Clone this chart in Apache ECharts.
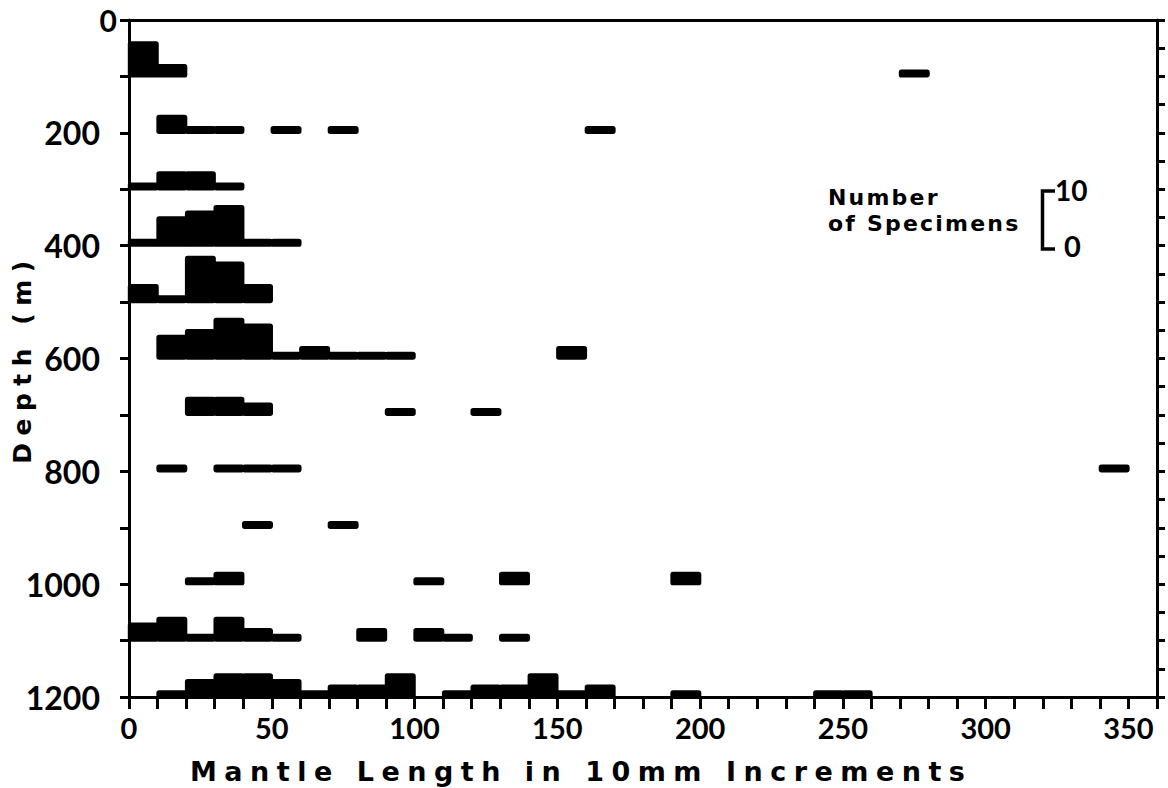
<!DOCTYPE html>
<html>
<head>
<meta charset="utf-8">
<script src="https://cdn.jsdelivr.net/npm/echarts@6/dist/echarts.min.js"></script>
<style>
  html, body { margin: 0; padding: 0; background: #fff; }
  #chart { width: 1168px; height: 788px; }
  /* axis titles are set in a widely tracked face, the scale key slightly tracked */
  #chart text[style*="AxisTitle"], #chart text[font-family*="AxisTitle"] { letter-spacing: 7.5px; }
  #chart text[style*="KeyText"], #chart text[font-family*="KeyText"] { letter-spacing: 2.2px; }
</style>
</head>
<body>
<div id="chart"></div>
<script>
// Length-frequency histograms of mantle length, one per sampled depth.
// Each entry is [bin start (10mm increments), number of specimens].
const depths = [100, 200, 300, 400, 500, 600, 700, 800, 900, 1000, 1100, 1200];
const row100  = [[0, 6], [10, 2], [270, 1]];
const row200  = [[10, 3], [20, 1], [30, 1], [50, 1], [70, 1], [160, 1]];
const row300  = [[0, 1], [10, 3], [20, 3], [30, 1]];
const row400  = [[0, 1], [10, 5], [20, 6], [30, 7], [40, 1], [50, 1]];
const row500  = [[0, 3], [10, 1], [20, 8], [30, 7], [40, 3]];
const row600  = [[10, 4], [20, 5], [30, 7], [40, 6], [50, 1], [60, 2], [70, 1], [80, 1], [90, 1], [150, 2]];
const row700  = [[20, 3], [30, 3], [40, 2], [90, 1], [120, 1]];
const row800  = [[10, 1], [30, 1], [40, 1], [50, 1], [340, 1]];
const row900  = [[40, 1], [70, 1]];
const row1000 = [[20, 1], [30, 2], [100, 1], [130, 2], [190, 2]];
const row1100 = [[0, 3], [10, 4], [20, 1], [30, 4], [40, 2], [50, 1], [80, 2], [100, 2], [110, 1], [130, 1]];
const row1200 = [[10, 1], [20, 3], [30, 4], [40, 4], [50, 3], [60, 1], [70, 2], [80, 2], [90, 4], [110, 1],
                 [120, 2], [130, 2], [140, 4], [150, 1], [160, 2], [190, 1], [240, 1], [250, 1]];
const rows = [row100, row200, row300, row400, row500, row600, row700, row800, row900, row1000, row1100, row1200];

const xTickLabels = [0, 50, 100, 150, 200, 250, 300, 350];
const yTickLabels = [0, 200, 400, 600, 800, 1000, 1200];

const binWidth = 10;          // mantle-length bin
const metresPerSpecimen = 10; // bar height scale: 10 specimens span 100 m of depth

const barData = [];
rows.forEach((row, i) => {
  row.forEach(([start, count]) => barData.push([start, depths[i], count]));
});

const titleFamily = 'AxisTitle, "DejaVu Sans"';
const keyFamily = 'KeyText, "DejaVu Sans"';
const labelFont = { color: '#000', fontFamily: 'Lato', fontWeight: 'bold', fontSize: 29 };
const axisLine = { show: true, onZero: false, lineStyle: { color: '#000', width: 3 } };

const chart = echarts.init(document.getElementById('chart'), null, { renderer: 'svg' });
chart.setOption({
  animation: false,
  backgroundColor: '#fff',
  grid: { left: 129, top: 20, width: 1028, height: 677, containLabel: false, outerBoundsMode: 'none' },
  xAxis: [{
    type: 'value', position: 'bottom', min: 0, max: 360, interval: 10,
    axisLine: axisLine,
    axisTick: { show: true, inside: false, length: 12, lineStyle: { color: '#000', width: 3 } },
    axisLabel: Object.assign({
      margin: 16,
      formatter: v => (xTickLabels.indexOf(v) >= 0 ? String(v) : '')
    }, labelFont),
    splitLine: { show: false }
  }, {
    type: 'value', position: 'top', min: 0, max: 360,
    axisLine: axisLine, axisTick: { show: false }, axisLabel: { show: false }, splitLine: { show: false }
  }],
  yAxis: [{
    type: 'value', position: 'left', inverse: true, min: 0, max: 1200, interval: 100,
    name: 'Depth (m)', nameLocation: 'middle', nameGap: 94, nameRotate: 90, nameMoveOverlap: false,
    nameTextStyle: { color: '#000', fontFamily: titleFamily, fontWeight: 'bold', fontSize: 25 },
    axisLine: axisLine,
    axisTick: { show: true, inside: false, length: 9, lineStyle: { color: '#000', width: 3 } },
    axisLabel: Object.assign({}, labelFont, {
      margin: 12,
      fontSize: 32,
      formatter: v => {
        if (yTickLabels.indexOf(v) < 0) return '';
        return v === 0 ? '{z|0}' : '{n|' + v + '}';
      },
      rich: {
        z: { fontFamily: 'Lato', fontWeight: 'bold', fontSize: 30, color: '#000' },
        n: { fontFamily: 'Lato', fontWeight: 'bold', fontSize: 32, color: '#000', padding: [0, 17, 0, 0] }
      }
    }),
    splitLine: { show: false }
  }, {
    type: 'value', position: 'right', inverse: true, min: 0, max: 1200, interval: 50,
    axisLine: axisLine,
    axisTick: { show: true, inside: false, length: 8, lineStyle: { color: '#000', width: 3 } },
    axisLabel: { show: false }, splitLine: { show: false }
  }],
  series: [{
    type: 'custom',
    xAxisIndex: 0, yAxisIndex: 0,
    clip: false,
    encode: { x: 0, y: 1 },
    data: barData,
    renderItem: function (params, api) {
      const start = api.value(0), depth = api.value(1), count = api.value(2);
      const base = api.coord([start, depth]);
      const top = api.coord([start + binWidth, depth - count * metresPerSpecimen]);
      return {
        type: 'rect',
        shape: { x: base[0], y: top[1], width: top[0] - base[0], height: base[1] - top[1], r: 1.5 },
        style: { fill: '#000', stroke: '#000', lineWidth: 2.4, lineJoin: 'round' }
      };
    }
  }],
  graphic: [
    {
      type: 'text', left: 190, top: 758,
      style: {
        text: 'Mantle Length in 10mm Increments',
        fill: '#000', fontFamily: titleFamily, fontWeight: 'bold', fontSize: 27
      }
    },
    // specimen-count scale
    {
      type: 'text', left: 828, top: 184,
      style: {
        text: 'Number\nof Specimens', fill: '#000', lineHeight: 26,
        fontFamily: keyFamily, fontWeight: 'bold', fontSize: 22
      }
    },
    {
      type: 'polyline',
      shape: { points: [[1055, 191], [1042.5, 191], [1042.5, 249], [1055, 249]] },
      style: { stroke: '#000', lineWidth: 3.5, fill: null }
    },
    {
      type: 'text', left: 1055, top: 176,
      style: { text: '10', fill: '#000', font: 'bold 28px "Lato"' }
    },
    {
      type: 'text', left: 1064, top: 231,
      style: { text: '0', fill: '#000', font: 'bold 29px "Lato"' }
    }
  ]
});
</script>
</body>
</html>
